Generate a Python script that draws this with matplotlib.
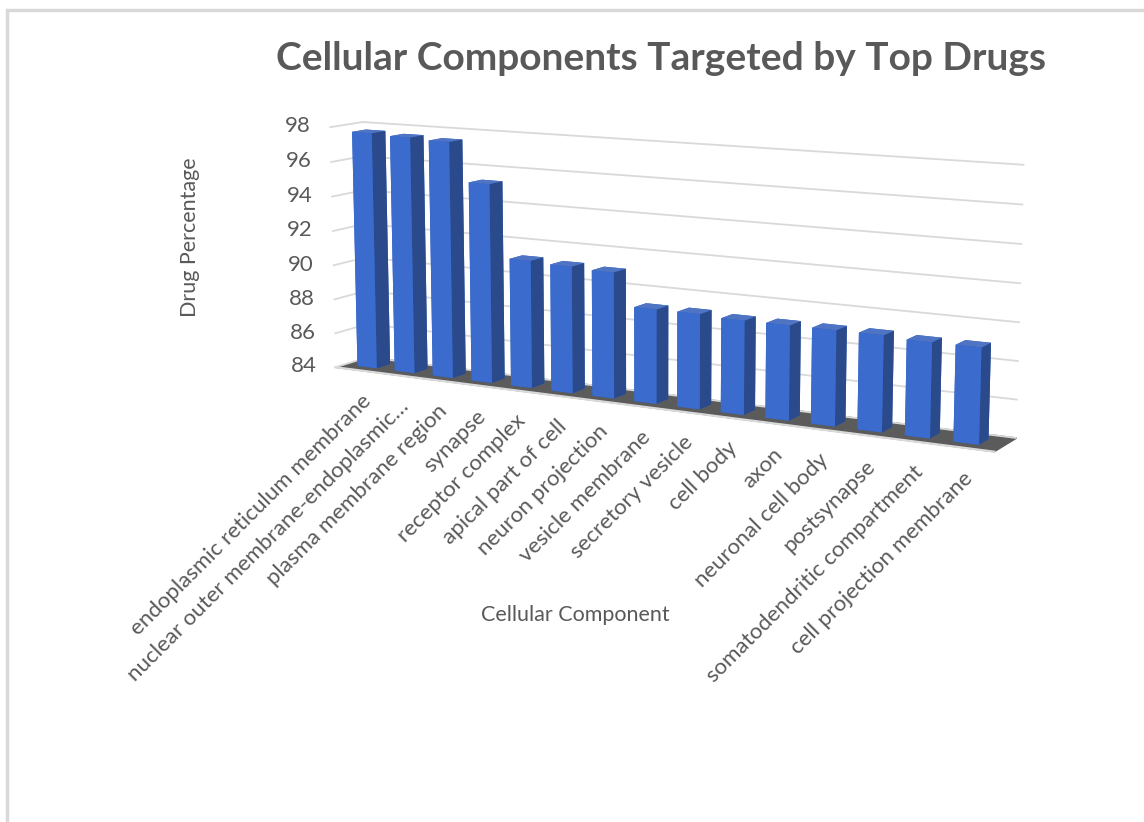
import numpy as np
import matplotlib
matplotlib.use("Agg")
import matplotlib.pyplot as plt
from matplotlib.patches import Rectangle
from mpl_toolkits.mplot3d import proj3d

# Cellular components (as labelled on the category axis) and drug percentages
components = [
    "endoplasmic reticulum membrane",
    "nuclear outer membrane-endoplasmic\u2026",
    "plasma membrane region",
    "synapse",
    "receptor complex",
    "apical part of cell",
    "neuron projection",
    "vesicle membrane",
    "secretory vesicle",
    "cell body",
    "axon",
    "neuronal cell body",
    "postsynapse",
    "somatodendritic compartment",
    "cell projection membrane",
]
drug_pct = [97.7, 97.6, 97.5, 95.3, 91.2, 91.1, 91.0, 89.2,
            89.2, 89.1, 89.1, 89.1, 89.1, 89.0, 89.0]
pct_ticks = [84, 86, 88, 90, 92, 94, 96, 98]

TEXT = "#595959"
GRID = "#d9d9d9"

plt.rcParams["font.family"] = ["Lato", "DejaVu Sans"]
plt.rcParams["grid.color"] = GRID
plt.rcParams["grid.linewidth"] = 1.3

fig = plt.figure(figsize=(11.44, 8.22), dpi=100)
fig.patch.set_facecolor("white")

# light chart-area frame
fig.patches.append(Rectangle((7 / 1144, -0.1), 1.2, 1.1 - 10 / 822,
                             transform=fig.transFigure, fill=False,
                             ec=GRID, lw=2.5))

ax = fig.add_axes([0.2242, 0.1840, 0.6757, 0.9404], projection="3d")
ax.patch.set_visible(False)
ax.set_proj_type("persp", focal_length=0.55)
ax.view_init(elev=10, azim=-61)

n = len(components)
depth = 1.25
xlo, xhi = -0.6, n - 0.3
ax.set_box_aspect(((xhi - xlo) * 1.04, depth, 5.5), zoom=1.0)

xpos = np.arange(n)
zmin = pct_ticks[0]
heights = np.array(drug_pct) - zmin
bar_w = bar_d = 0.52
bar_y = (depth - bar_d) / 2

# per-face colours: bottom, top, front, back, left, right
face_cols = ["#2f5fb8", "#4f74c4", "#3a6bcd", "#2f5fb8", "#2f5fb8", "#2a4a8c"]
all_face_cols = [c for _ in range(n) for c in face_cols]
ax.bar3d(xpos - bar_w / 2, np.full(n, bar_y), np.full(n, float(zmin)),
         bar_w, bar_d, heights, color=all_face_cols, shade=False,
         linewidth=0)

ax.set_xlim(xlo, xhi, view_margin=0)
ax.set_ylim(0, depth, view_margin=0)
ax.set_zlim(pct_ticks[0], pct_ticks[-1], view_margin=0)

ax.set_xticks([])
ax.set_yticks([])
ax.set_zticks(pct_ticks)
ax.set_zticklabels([])
for a in (ax.xaxis, ax.yaxis, ax.zaxis):
    a._axinfo["tick"]["inward_factor"] = 0.0
    a._axinfo["tick"]["outward_factor"] = 0.0
    a.pane.set_edgecolor((1, 1, 1, 0))
ax.xaxis.set_pane_color((1, 1, 1, 1))
ax.yaxis.set_pane_color((1, 1, 1, 1))
ax.zaxis.set_pane_color("#5b5b5b")
ax.zaxis.line.set_color((1, 1, 1, 0))
ax.yaxis.line.set_color((1, 1, 1, 0))
ax.xaxis.line.set_color(GRID)
ax.xaxis.line.set_linewidth(1.6)

fig.canvas.draw()
M = ax.get_proj()


def screen(x, y, z):
    px, py, _ = proj3d.proj_transform(x, y, z, M)
    return float(px), float(py)


# value labels along the front-left edge
for v in pct_ticks:
    ax.annotate(str(v), xy=screen(xlo, 0, v), xycoords="data",
                xytext=(-19, 1), textcoords="offset pixels",
                ha="right", va="center", fontsize=16, color=TEXT,
                annotation_clip=False)

# category labels under each column
for x, lab in zip(xpos, components):
    ax.annotate(lab, xy=screen(x, 0, zmin), xycoords="data",
                xytext=(3, -21), textcoords="offset pixels",
                rotation=45, rotation_mode="anchor", ha="right", va="top",
                fontsize=16, color=TEXT, annotation_clip=False)

fig.text(0.166, 0.712, "Drug Percentage", rotation=90, ha="center",
         va="center", fontsize=15.5, color=TEXT)
fig.text(0.503, 0.252, "Cellular Component", ha="center", va="center",
         fontsize=15.5, color=TEXT)
fig.text(0.578, 0.929, "Cellular Components Targeted by Top Drugs",
         ha="center", va="center", fontsize=28, fontweight="bold", color=TEXT)

fig.savefig("out.png", dpi=100, facecolor="white")
